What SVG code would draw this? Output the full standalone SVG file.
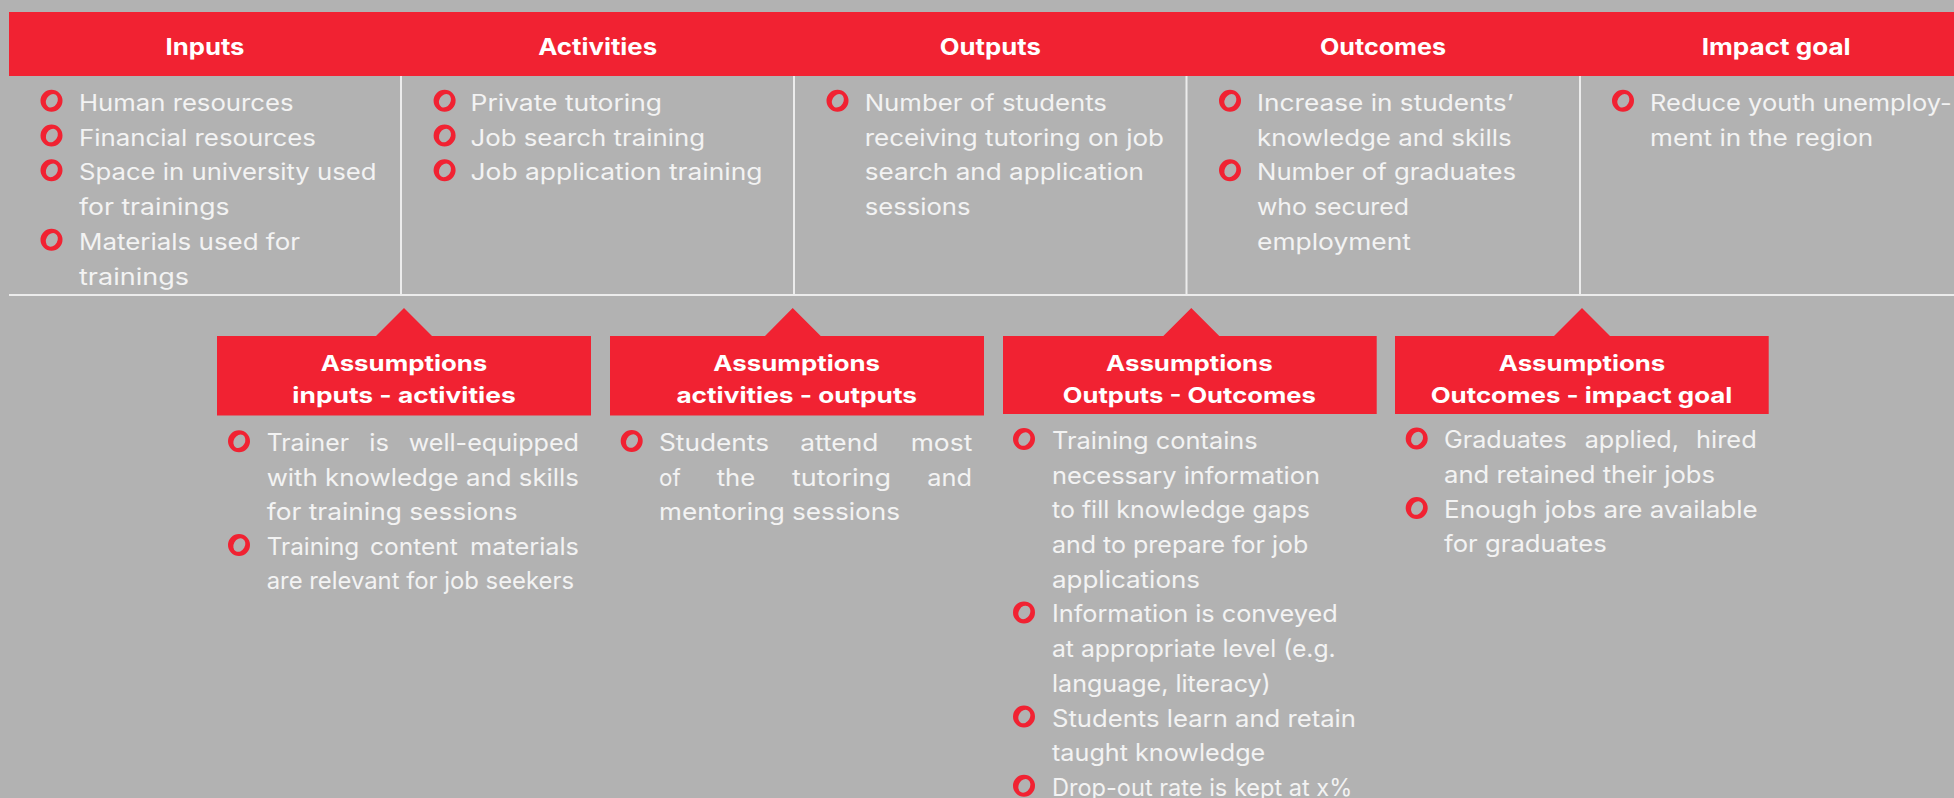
<svg xmlns="http://www.w3.org/2000/svg" xmlns:xlink="http://www.w3.org/1999/xlink" width="1954" height="798" viewBox="0 0 1954 798">
<defs>
<style>
.bg{fill:#b2b2b2}
.red{fill:#f12232}
.grid{stroke:#ececec;stroke-width:2;fill:none}
.hd{font-family:Inter,"Open Sans","Liberation Sans",sans-serif;font-weight:700;font-size:23px;fill:#ffffff;text-anchor:middle}
.tt{font-family:Inter,"Open Sans","Liberation Sans",sans-serif;font-weight:700;font-size:22px;fill:#ffffff;text-anchor:middle}
.up{font-family:Inter,"Open Sans","Liberation Sans",sans-serif;font-size:22.5px;fill:#f3f3f3}
.lo{font-family:Inter,"Open Sans","Liberation Sans",sans-serif;font-size:24px;fill:#f3f3f3}
</style>
<path id="b" fill="#f12232" fill-rule="evenodd" d="M-11,0A11,11 0 1 0 11,0A11,11 0 1 0 -11,0Z M3.9,-6.1A7.1,5.6 -60 1 0 -3.2,6.2A7.1,5.6 -60 1 0 3.9,-6.1Z"/>
</defs>
<rect class="bg" x="0" y="0" width="1954" height="798"/>

<g id="grid">
<rect class="red" x="9" y="12" width="1945" height="64"/>
<line class="grid" x1="9" y1="295" x2="1954" y2="295"/>
<line class="grid" x1="401" y1="76" x2="401" y2="295"/>
<line class="grid" x1="794" y1="76" x2="794" y2="295"/>
<line class="grid" x1="1186.5" y1="76" x2="1186.5" y2="295"/>
<line class="grid" x1="1580" y1="76" x2="1580" y2="295"/>
</g>

<g id="col-inputs">
<text class="hd" x="205" y="55" textLength="79" lengthAdjust="spacingAndGlyphs">Inputs</text>
<use xlink:href="#b" x="51.5" y="100.7"/>
<use xlink:href="#b" x="51.5" y="135.5"/>
<use xlink:href="#b" x="51.5" y="170.3"/>
<use xlink:href="#b" x="51.5" y="239.8"/>
<text class="up" x="79" y="110.7" textLength="214.5" lengthAdjust="spacingAndGlyphs">Human resources</text>
<text class="up" x="79" y="145.5" textLength="237" lengthAdjust="spacingAndGlyphs">Financial resources</text>
<text class="up" x="79" y="180.3" textLength="297.5" lengthAdjust="spacingAndGlyphs">Space in university used</text>
<text class="up" x="79" y="215" textLength="150.5" lengthAdjust="spacingAndGlyphs">for trainings</text>
<text class="up" x="79" y="249.8" textLength="221" lengthAdjust="spacingAndGlyphs">Materials used for</text>
<text class="up" x="79" y="284.5" textLength="110" lengthAdjust="spacingAndGlyphs">trainings</text>
</g>

<g id="col-activities">
<text class="hd" x="597.7" y="55" textLength="119" lengthAdjust="spacingAndGlyphs">Activities</text>
<use xlink:href="#b" x="444.6" y="100.7"/>
<use xlink:href="#b" x="444.6" y="135.5"/>
<use xlink:href="#b" x="444.6" y="170.3"/>
<text class="up" x="470.5" y="110.7" textLength="191.5" lengthAdjust="spacingAndGlyphs">Private tutoring</text>
<text class="up" x="470.5" y="145.5" textLength="234.5" lengthAdjust="spacingAndGlyphs">Job search training</text>
<text class="up" x="470.5" y="180.3" textLength="292" lengthAdjust="spacingAndGlyphs">Job application training</text>
</g>

<g id="col-outputs">
<text class="hd" x="990.3" y="55" textLength="101" lengthAdjust="spacingAndGlyphs">Outputs</text>
<use xlink:href="#b" x="837.5" y="100.7"/>
<text class="up" x="864.7" y="110.7" textLength="242.3" lengthAdjust="spacingAndGlyphs">Number of students</text>
<text class="up" x="864.7" y="145.5" textLength="299.3" lengthAdjust="spacingAndGlyphs">receiving tutoring on job</text>
<text class="up" x="864.7" y="180.3" textLength="279.3" lengthAdjust="spacingAndGlyphs">search and application</text>
<text class="up" x="864.7" y="215" textLength="105.8" lengthAdjust="spacingAndGlyphs">sessions</text>
</g>

<g id="col-outcomes">
<text class="hd" x="1383" y="55" textLength="126" lengthAdjust="spacingAndGlyphs">Outcomes</text>
<use xlink:href="#b" x="1230" y="100.7"/>
<use xlink:href="#b" x="1230" y="170.3"/>
<text class="up" x="1257" y="110.7" textLength="256.5" lengthAdjust="spacingAndGlyphs">Increase in students’</text>
<text class="up" x="1257" y="145.5" textLength="254.6" lengthAdjust="spacingAndGlyphs">knowledge and skills</text>
<text class="up" x="1257" y="180.3" textLength="259" lengthAdjust="spacingAndGlyphs">Number of graduates</text>
<text class="up" x="1257" y="215" textLength="152" lengthAdjust="spacingAndGlyphs">who secured</text>
<text class="up" x="1257" y="249.8" textLength="154" lengthAdjust="spacingAndGlyphs">employment</text>
</g>

<g id="col-impact">
<text class="hd" x="1776.2" y="55" textLength="149" lengthAdjust="spacingAndGlyphs">Impact goal</text>
<use xlink:href="#b" x="1623" y="100.7"/>
<text class="up" x="1650" y="110.7" textLength="301.7" lengthAdjust="spacingAndGlyphs">Reduce youth unemploy-</text>
<text class="up" x="1650" y="145.5" textLength="223.3" lengthAdjust="spacingAndGlyphs">ment in the region</text>
</g>

<g id="assumptions-inputs-activities">
<path class="red" d="M217,336H376L404,308L432,336H591V415.5H217Z"/>
<text class="tt" x="404" y="371" textLength="166.7" lengthAdjust="spacingAndGlyphs">Assumptions</text>
<text class="tt" x="404" y="403.3" textLength="223.3" lengthAdjust="spacingAndGlyphs">inputs - activities</text>
<use xlink:href="#b" x="239" y="441.2"/>
<use xlink:href="#b" x="239" y="545"/>
<text class="lo" y="451"><tspan x="266.7" textLength="82.3" lengthAdjust="spacingAndGlyphs">Trainer</tspan><tspan x="369.3" textLength="19.7" lengthAdjust="spacingAndGlyphs">is</tspan><tspan x="408.7" textLength="170.3" lengthAdjust="spacingAndGlyphs">well-equipped</tspan></text>
<text class="lo" x="266.7" y="485.6" textLength="312.3" lengthAdjust="spacingAndGlyphs">with knowledge and skills</text>
<text class="lo" x="266.7" y="520.2" textLength="251" lengthAdjust="spacingAndGlyphs">for training sessions</text>
<text class="lo" y="554.8"><tspan x="266.7" textLength="92.6" lengthAdjust="spacingAndGlyphs">Training</tspan><tspan x="370" textLength="87.7" lengthAdjust="spacingAndGlyphs">content</tspan><tspan x="470" textLength="109" lengthAdjust="spacingAndGlyphs">materials</tspan></text>
<text class="lo" x="266.7" y="589.4" textLength="307.3" lengthAdjust="spacingAndGlyphs">are relevant for job seekers</text>
</g>

<g id="assumptions-activities-outputs">
<path class="red" d="M610,336H765L792.7,308L820.7,336H984V415.5H610Z"/>
<text class="tt" x="796.7" y="371" textLength="166.7" lengthAdjust="spacingAndGlyphs">Assumptions</text>
<text class="tt" x="796.7" y="403.3" textLength="240.6" lengthAdjust="spacingAndGlyphs">activities - outputs</text>
<use xlink:href="#b" x="631.7" y="441"/>
<text class="lo" y="451"><tspan x="659" textLength="110" lengthAdjust="spacingAndGlyphs">Students</tspan><tspan x="800.3" textLength="78" lengthAdjust="spacingAndGlyphs">attend</tspan><tspan x="910.7" textLength="61.6" lengthAdjust="spacingAndGlyphs">most</tspan></text>
<text class="lo" y="485.7"><tspan x="659" textLength="21.7" lengthAdjust="spacingAndGlyphs">of</tspan><tspan x="716.7" textLength="38.6" lengthAdjust="spacingAndGlyphs">the</tspan><tspan x="792" textLength="99" lengthAdjust="spacingAndGlyphs">tutoring</tspan><tspan x="927.3" textLength="44.7" lengthAdjust="spacingAndGlyphs">and</tspan></text>
<text class="lo" x="659" y="520.3" textLength="241" lengthAdjust="spacingAndGlyphs">mentoring sessions</text>
</g>

<g id="assumptions-outputs-outcomes">
<path class="red" d="M1003,336H1163.3L1191.3,308L1219.3,336H1376.7V414H1003Z"/>
<text class="tt" x="1189.3" y="371" textLength="166.7" lengthAdjust="spacingAndGlyphs">Assumptions</text>
<text class="tt" x="1189.3" y="402.7" textLength="253" lengthAdjust="spacingAndGlyphs">Outputs - Outcomes</text>
<use xlink:href="#b" x="1024" y="439"/>
<use xlink:href="#b" x="1024" y="612.4"/>
<use xlink:href="#b" x="1024" y="716.5"/>
<use xlink:href="#b" x="1024" y="785.8"/>
<text class="lo" x="1052" y="449" textLength="205.7" lengthAdjust="spacingAndGlyphs">Training contains</text>
<text class="lo" x="1052" y="483.7" textLength="268" lengthAdjust="spacingAndGlyphs">necessary information</text>
<text class="lo" x="1052" y="518.4" textLength="258" lengthAdjust="spacingAndGlyphs">to fill knowledge gaps</text>
<text class="lo" x="1052" y="553" textLength="256.3" lengthAdjust="spacingAndGlyphs">and to prepare for job</text>
<text class="lo" x="1052" y="587.7" textLength="148" lengthAdjust="spacingAndGlyphs">applications</text>
<text class="lo" x="1052" y="622.4" textLength="285.7" lengthAdjust="spacingAndGlyphs">Information is conveyed</text>
<text class="lo" x="1052" y="657" textLength="283.7" lengthAdjust="spacingAndGlyphs">at appropriate level (e.g.</text>
<text class="lo" x="1052" y="691.7" textLength="218.7" lengthAdjust="spacingAndGlyphs">language, literacy)</text>
<text class="lo" x="1052" y="726.5" textLength="304" lengthAdjust="spacingAndGlyphs">Students learn and retain</text>
<text class="lo" x="1052" y="761" textLength="213.3" lengthAdjust="spacingAndGlyphs">taught knowledge</text>
<text class="lo" x="1052" y="795.8" textLength="300.3" lengthAdjust="spacingAndGlyphs">Drop-out rate is kept at x%</text>
</g>

<g id="assumptions-outcomes-impact">
<path class="red" d="M1395,336H1554L1582,308L1610,336H1768.7V414H1395Z"/>
<text class="tt" x="1582" y="371" textLength="166.7" lengthAdjust="spacingAndGlyphs">Assumptions</text>
<text class="tt" x="1581.5" y="402.7" textLength="301.7" lengthAdjust="spacingAndGlyphs">Outcomes - impact goal</text>
<use xlink:href="#b" x="1416.7" y="438.5"/>
<use xlink:href="#b" x="1416.7" y="508"/>
<text class="lo" y="447.5"><tspan x="1444" textLength="122.7" lengthAdjust="spacingAndGlyphs">Graduates</tspan><tspan x="1584.7" textLength="94.3" lengthAdjust="spacingAndGlyphs">applied,</tspan><tspan x="1696" textLength="60.7" lengthAdjust="spacingAndGlyphs">hired</tspan></text>
<text class="lo" x="1444" y="483" textLength="271" lengthAdjust="spacingAndGlyphs">and retained their jobs</text>
<text class="lo" x="1444" y="517.7" textLength="313.7" lengthAdjust="spacingAndGlyphs">Enough jobs are available</text>
<text class="lo" x="1444" y="552" textLength="162.7" lengthAdjust="spacingAndGlyphs">for graduates</text>
</g>
</svg>
